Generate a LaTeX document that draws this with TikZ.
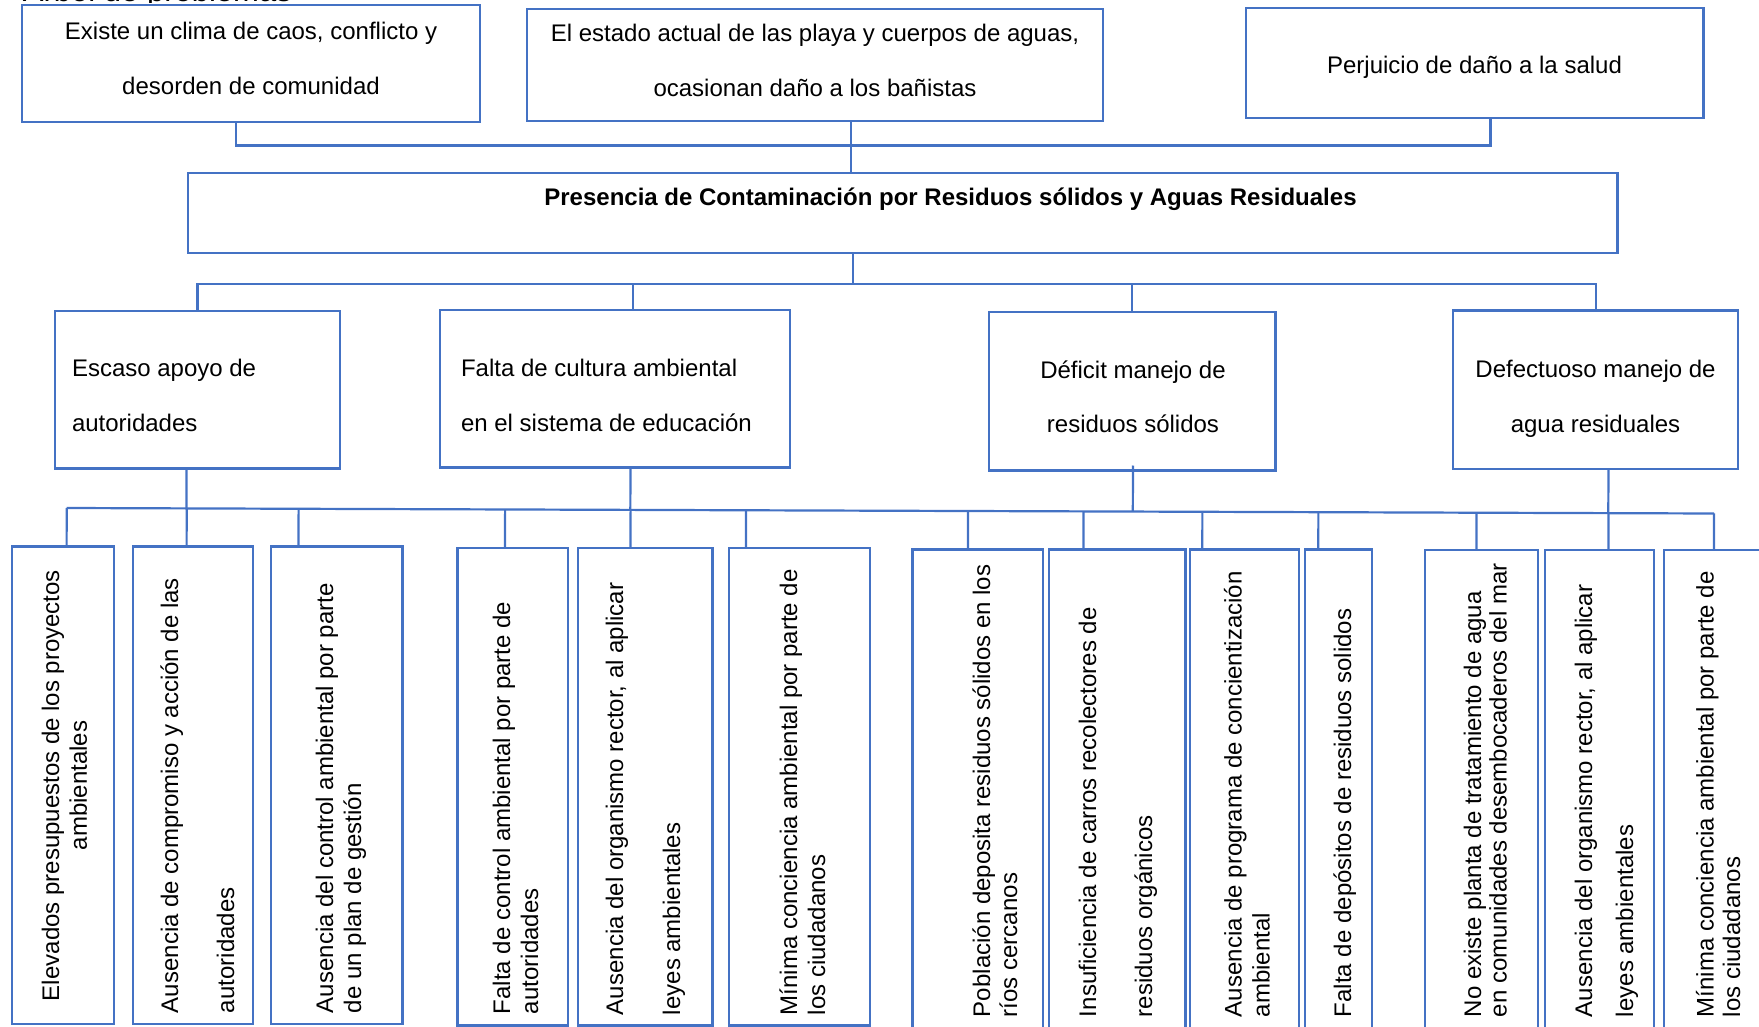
\documentclass[tikz,border=0pt]{standalone}
\usepackage{fontspec}
\setmainfont{Liberation Sans}
\usetikzlibrary{fit,calc}
\definecolor{ln}{HTML}{4472C4}
\newcommand\mlines[2]{\begin{tabular}[t]{@{}#1@{}}#2\end{tabular}}
\begin{document}
\begin{tikzpicture}[x=1pt,y=-1pt,
  bx/.style={draw=ln, line width=2.2pt, inner sep=0pt, outer sep=0pt, rectangle},
  cn/.style={draw=ln, line width=2.2pt},
  tx/.style={font=\fontsize{24}{28}\selectfont, inner sep=0pt, outer sep=0pt},
  vt/.style={tx, rotate=90, anchor=base west},
]
\useasboundingbox (0,0) rectangle (1759,1027);

% partially visible title
\begin{scope}
\clip (0,-5) rectangle (400,2.2);
\node[tx, font=\fontsize{31}{34}\selectfont, anchor=base west] (title) at (23,1.8) {Árbol de problemas};
\end{scope}

% effects
\node[bx, fit={(22,5) (480,122)}] (e1) {};
\node[bx, fit={(527,9) (1103,121)}] (e2) {};
\node[bx, fit={(1246,8) (1703.5,118)}] (e3) {};
\node[tx, anchor=base] (e1t) at (251,40) {\mlines{c}{Existe un clima de caos, conflicto y\\[26.5pt] desorden de comunidad}};
\node[tx, anchor=base] (e2t) at (815,42) {\mlines{c}{El estado actual de las playa y cuerpos de aguas,\\[27pt] ocasionan daño a los bañistas}};
\node[tx, anchor=base] (e3t) at (1474.5,74) {Perjuicio de daño a la salud};

% main problem
\node[bx, fit={(188,173) (1617.5,253)}] (main) {};
\node[tx, anchor=base, font=\fontsize{24}{28}\selectfont\bfseries] (maint) at (950.5,206) {Presencia de Contaminación por Residuos sólidos y Aguas Residuales};

% causes
\node[bx, fit={(55,311) (340,468.5)}] (cA) {};
\node[bx, fit={(440,310) (790,467.5)}] (cB) {};
\node[bx, fit={(989,312) (1275.5,470.5)}] (cC) {};
\node[bx, fit={(1453,310.5) (1738.3,469)}] (cD) {};
\node[tx, anchor=base west] (cAt) at (72,376.5) {\mlines{l}{Escaso apoyo de\\[27pt] autoridades}};
\node[tx, anchor=base west] (cBt) at (461,376.5) {\mlines{l}{Falta de cultura ambiental\\[27pt] en el sistema de educación}};
\node[tx, anchor=base] (cCt) at (1133,378.5) {\mlines{c}{Déficit manejo de\\[26pt] residuos sólidos}};
\node[tx, anchor=base] (cDt) at (1595.5,377.5) {\mlines{c}{Defectuoso manejo de\\[26.5pt] agua residuales}};

% sub-causes
\node[bx, fit={(12,546.4) (113.7,1024)}] (b1) {};
\node[bx, fit={(132.6,546.4) (253,1024)}] (b2) {};
\node[bx, fit={(271,546.4) (402.4,1024)}] (b3) {};
\node[bx, fit={(457.5,548) (568.3,1025.5)}] (b4) {};
\node[bx, fit={(578,548) (712.4,1025.5)}] (b5) {};
\node[bx, fit={(729,548) (869.7,1025.5)}] (b6) {};
\node[bx, fit={(912.5,549.4) (1042.6,1040)}] (b7) {};
\node[bx, fit={(1049,549.4) (1185.5,1040)}] (b8) {};
\node[bx, fit={(1190,549.4) (1298.7,1040)}] (b9) {};
\node[bx, fit={(1305,549.4) (1371.6,1040)}] (b10) {};
\node[bx, fit={(1424.8,550) (1538,1040)}] (b11) {};
\node[bx, fit={(1545,550) (1654,1040)}] (b12) {};
\node[bx, fit={(1664,550) (1790,1040)}] (b13) {};

\node[vt] (b1t) at (59,1001) {\mlines{c}{Elevados presupuestos de los proyectos\\ ambientales}};
\node[vt] (b2t) at (178,1013) {\mlines{l}{Ausencia de compromiso y acción de las\\[28pt] autoridades}};
\node[vt] (b3t) at (333,1013) {\mlines{l}{Ausencia del control ambiental por parte\\ de un plan de gestión}};
\node[vt] (b4t) at (510,1014) {\mlines{l}{Falta de control ambiental por parte de\\ autoridades}};
\node[vt] (b5t) at (623,1015) {\mlines{l}{Ausencia del organismo rector, al aplicar\\[29pt] leyes ambientales}};
\node[vt] (b6t) at (797,1015) {\mlines{l}{Mínima conciencia ambiental por parte de\\ los ciudadanos}};
\node[vt] (b7t) at (990,1017) {\mlines{l}{Población deposita residuos sólidos en los\\[-1pt] ríos cercanos}};
\node[vt] (b8t) at (1096,1017) {\mlines{l}{Insuficiencia de carros recolectores de\\[28pt] residuos orgánicos}};
\node[vt] (b9t) at (1241.5,1017) {\mlines{l}{Ausencia de programa de concientización\\ ambiental}};
\node[vt] (b10t) at (1351,1017) {Falta de depósitos de residuos solidos};
\node[vt] (b11t) at (1481,1017) {\mlines{l}{No existe planta de tratamiento de agua\\[-2.3pt] en comunidades desembocaderos del mar}};
\node[vt] (b12t) at (1592,1017) {\mlines{l}{Ausencia del organismo rector, al aplicar\\[13pt] leyes ambientales}};
\node[vt] (b13t) at (1713.5,1017) {\mlines{l}{Mínima conciencia ambiental por parte de\\[-1.5pt] los ciudadanos}};

% connectors: effects to main problem
\coordinate (jL) at (236,145.5);
\coordinate (jR) at (1490.5,145.5);
\coordinate (j2) at (851,145.5);
\draw[cn] (e1.south -| jL) -- (jL) -- (jR) -- (e3.south -| jR);
\draw[cn] (e2.south -| j2) -- (main.north -| j2);

% main problem to causes
\coordinate (m1) at (853,284);
\coordinate (jB) at (633,284);
\draw[cn] (main.south -| m1) -- (m1);
\draw[cn] (cA.north) |- (m1) -| (cD.north);
\draw[cn] (cB.north -| jB) -- (jB);
\draw[cn] (cC.north) -- (cC.north |- m1);

% causes to sub-causes
\coordinate (lL) at (66.6,508);
\coordinate (lR) at (1714,513.5);
\draw[cn] (lL) -- (lR);
\foreach \i/\x in {1/66.6, 2/186.6, 3/298.5, 4/505, 5/630.5, 6/746, 7/968, 8/1083.5, 9/1202.3, 10/1318.3, 11/1476.4, 12/1608.5, 13/1714}{
  \coordinate (x\i) at (\x,0);
  \draw[cn] (b\i.north -| x\i) -- ($(lL)!(b\i.north -| x\i)!(lR)$);
}
\draw[cn] (cA.south -| x2) -- ($(lL)!(cA.south -| x2)!(lR)$);
\draw[cn] (cB.south -| x5) -- ($(lL)!(cB.south -| x5)!(lR)$);
\coordinate (xC) at (1133,0);
\draw[cn] ([yshift=5pt]cC.south -| xC) -- ($(lL)!(cC.south -| xC)!(lR)$);
\draw[cn] (cD.south -| x12) -- ($(lL)!(cD.south -| x12)!(lR)$);
\end{tikzpicture}
\end{document}
